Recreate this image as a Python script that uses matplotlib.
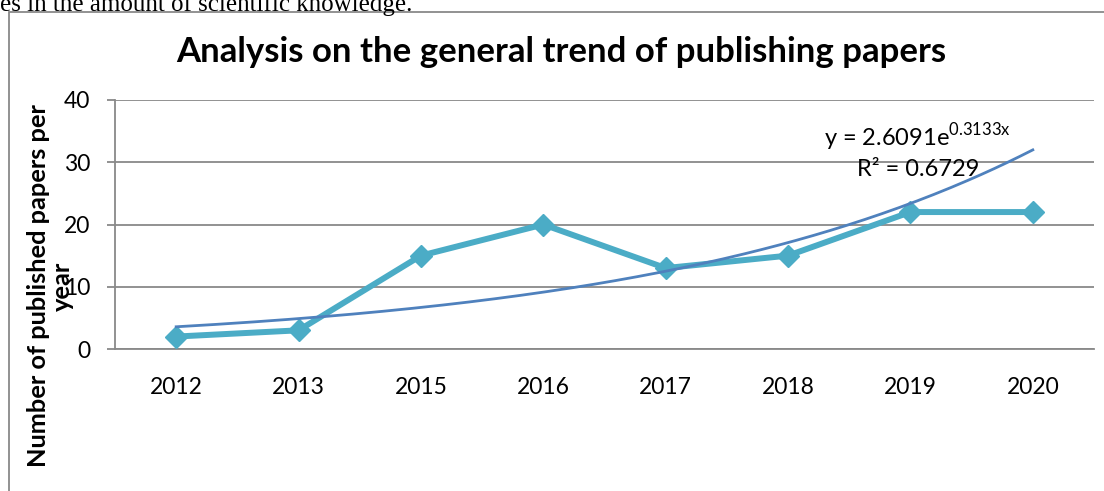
import numpy as np
import matplotlib
matplotlib.use("Agg")
import matplotlib.pyplot as plt
from matplotlib.patches import Rectangle

years = ["2012", "2013", "2015", "2016", "2017", "2018", "2019", "2020"]
papers = [2, 3, 15, 20, 13, 15, 22, 22]
yticks = [0, 10, 20, 30, 40]
title = "Analysis on the general trend of publishing papers"
ylabel = "Number of published papers per\nyear"
caption = "es in the amount of scientific knowledge."

SERIES = "#4BACC6"
TREND = "#4F81BD"
GRID = "#898989"

W, H = 1104, 491
plt.rcParams['font.family'] = ['Lato', 'DejaVu Sans']
plt.rcParams['mathtext.fontset'] = 'custom'
plt.rcParams['mathtext.rm'] = 'Lato'
fig = plt.figure(figsize=(W / 100, H / 100), dpi=100)

# caption fragment from the page above the chart
fig.text(0 / W, 1 - 11 / H, caption, family='Liberation Serif', fontsize=18,
         ha='left', va='baseline', color='black')

# chart border (extends past the image to right/bottom)
fig.patches.append(Rectangle((9 / W, -0.1), 1.2, 1 - 12 / H + 0.1,
                             transform=fig.transFigure, fill=False,
                             edgecolor=GRID, linewidth=1.3))

ax = fig.add_axes([115 / W, 1 - 349 / H, (1094 - 115) / W, (349 - 100) / H])

n = len(years)
xpos = np.arange(n) + 0.5
ax.plot(xpos, papers, color=SERIES, linewidth=4.3, marker='D', markersize=11.5,
        markerfacecolor=SERIES, markeredgecolor=SERIES, zorder=3)

# exponential trendline fitted to the data (Excel style, x = 1..n)
xi = np.arange(1, n + 1)
b, lna = np.polyfit(xi, np.log(papers), 1)
a = np.exp(lna)
pred = lna + b * xi
ly = np.log(papers)
r2 = 1 - np.sum((ly - pred) ** 2) / np.sum((ly - ly.mean()) ** 2)
xs = np.linspace(1, n, 200)
ax.plot(xs - 0.5, a * np.exp(b * xs), color=TREND, linewidth=2.0, zorder=4)

ax.text(6.56, 34.1, f"y = {a:.4f}e$^{{\\mathrm{{{b:.4f}x}}}}$", fontsize=17,
        ha='center', va='center', zorder=5)
ax.text(6.56, 28.8, f"R² = {r2:.4f}", fontsize=17, ha='center', va='center',
        zorder=5)

ax.set_xlim(0, n)
ax.set_ylim(0, 40)
ax.set_yticks(yticks)
ax.set_xticks(xpos)
ax.set_xticklabels(years)
ax.yaxis.grid(True, color=GRID, linewidth=1.3)
ax.set_axisbelow(True)
for s in ['top', 'right']:
    ax.spines[s].set_visible(False)
for s in ['left', 'bottom']:
    ax.spines[s].set_color(GRID)
    ax.spines[s].set_linewidth(1.3)
ax.tick_params(axis='y', length=6, color=GRID, width=1.3, pad=12, labelsize=16.5)
ax.tick_params(axis='x', length=0, pad=20, labelsize=16.5)

fig.text(561 / W, 1 - 52 / H, title, fontsize=25, fontweight='bold',
         ha='center', va='center')
fig.text(50 / W, 1 - 286 / H, ylabel, fontsize=18.3, fontweight='bold',
         rotation=90, ha='center', va='center', multialignment='center',
         linespacing=1.05)

fig.savefig("out.png", dpi=100)
